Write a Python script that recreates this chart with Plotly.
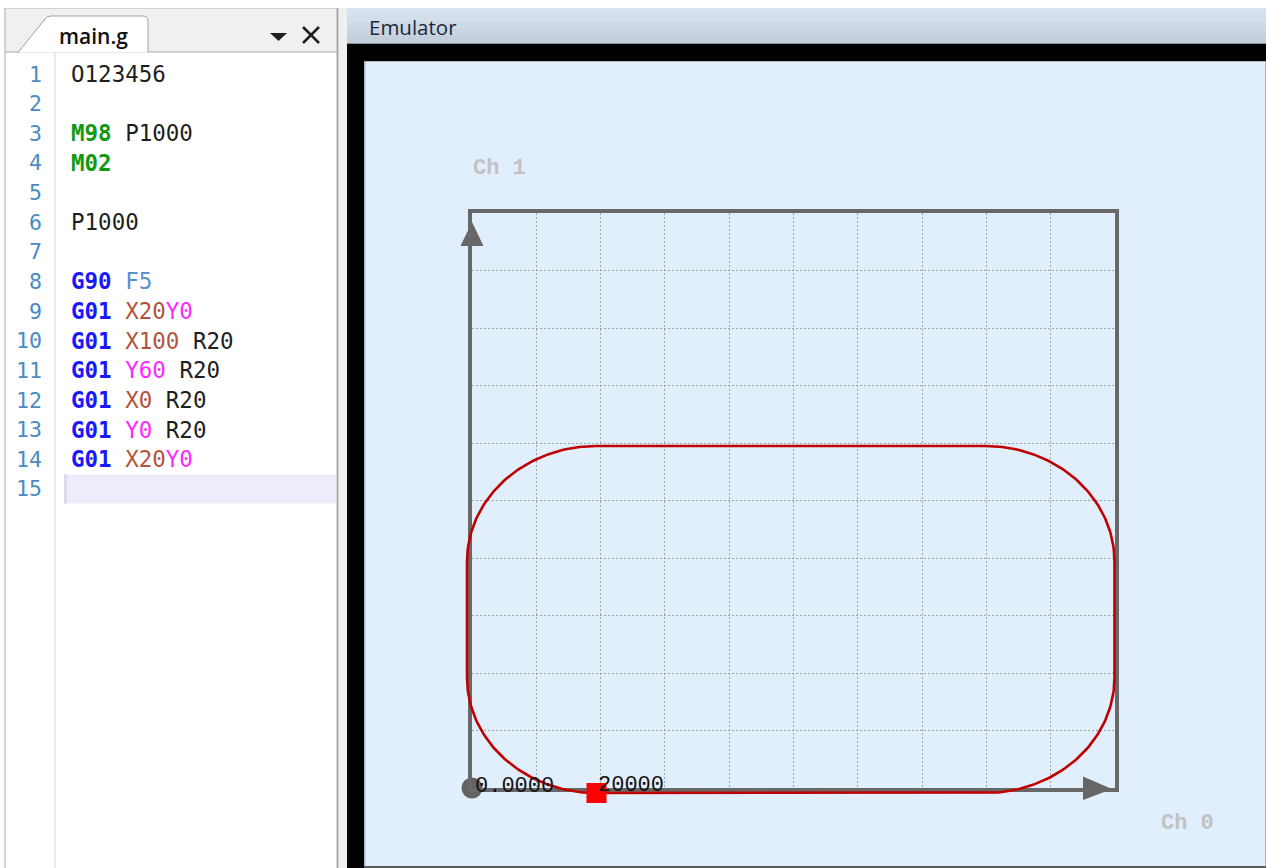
import re
import numpy as np
import plotly.graph_objects as go

W, H = 1266, 868

# ---------------- data ----------------
code_lines = [
    "O123456",
    "",
    "M98 P1000",
    "M02",
    "",
    "P1000",
    "",
    "G90 F5",
    "G01 X20Y0",
    "G01 X100 R20",
    "G01 Y60 R20",
    "G01 X0 R20",
    "G01 Y0 R20",
    "G01 X20Y0",
    "",
]
line_numbers = list(range(1, len(code_lines) + 1))
current_line = 15
tab_title = "main.g"
panel_title = "Emulator"

path_x = [0, 100]          # X0 .. X100
path_y = [0, 60]           # Y0 .. Y60
corner_radius = 20         # R20
start_point = [20, 0]      # X20Y0
tool_position = [20, 0]
axis_value_labels = ["0.0000", "20000"]
channel_labels = ["Ch 1", "Ch 0"]
grid_divisions = 10

# ---------------- helpers ----------------
def px(x):
    return x / W


def py(y):
    return 1 - y / H


def path_str(cmds):
    out = []
    for c in cmds:
        op, pts = c[0], c[1:]
        coords = " ".join(f"{px(a):.5f},{py(b):.5f}" for a, b in pts)
        out.append(f"{op} {coords}")
    return " ".join(out)


shapes = []


def rect(x0, y0, x1, y1, color, line=None):
    shapes.append(dict(type="rect", xref="paper", yref="paper",
                       x0=px(x0), x1=px(x1), y0=py(y1), y1=py(y0),
                       fillcolor=color, line=dict(width=0) if line is None else line,
                       layer="below"))


def hline(x0, x1, y, color, w=1):
    shapes.append(dict(type="line", xref="paper", yref="paper",
                       x0=px(x0), x1=px(x1), y0=py(y), y1=py(y),
                       line=dict(color=color, width=w), layer="below"))


def vline(x, y0, y1, color, w=1):
    shapes.append(dict(type="line", xref="paper", yref="paper",
                       x0=px(x), x1=px(x), y0=py(y0), y1=py(y1),
                       line=dict(color=color, width=w), layer="below"))


# ---------------- editor panel ----------------
rect(5, 8, 338, 52, "#f0f0f0")
hline(5, 338, 8.5, "#d0d0d0")
hline(5, 338, 52, "#a8a8a8")
vline(5, 8, 868, "#a8a8a8")
vline(55, 53, 868, "#d6d6d6")
shapes.append(dict(type="path", xref="paper", yref="paper",
                   path=path_str([("M", (18, 52.5)), ("L", (45, 19)),
                                  ("Q", (47, 16), (51, 16)), ("L", (143, 16)),
                                  ("Q", (148, 16), (148, 21)), ("L", (148, 52.5))]),
                   fillcolor="#ffffff", line=dict(color="#a0a0a0", width=1), layer="below"))
shapes.append(dict(type="path", xref="paper", yref="paper",
                   path=path_str([("M", (270, 33)), ("L", (287, 33)), ("L", (278.5, 41))]) + " Z",
                   fillcolor="#1e1e1e", line=dict(width=0), layer="below"))
for (a, b), (c, d) in [((303, 27), (319, 43)), ((319, 27), (303, 43))]:
    shapes.append(dict(type="line", xref="paper", yref="paper",
                       x0=px(a), y0=py(b), x1=px(c), y1=py(d),
                       line=dict(color="#1e1e1e", width=2.5), layer="below"))

line_y0, line_step = 74, 29.64
cy_cur = line_y0 + (current_line - 1) * line_step
rect(64, cy_cur - 14.5, 336, cy_cur + 14.5, "#ececfa")
rect(64, cy_cur - 14.5, 67, cy_cur + 14.5, "#d9d9f0")

vline(337.5, 8, 868, "#a8a8a8", 2)
rect(339, 8, 347, 868, "#f0f0f0")

# ---------------- emulator panel ----------------
grad = ["#d7e3f0", "#d2deea", "#cdd9e5", "#c8d4e0", "#c3cfdb"]
step = (43 - 8) / len(grad)
for i, c in enumerate(grad):
    rect(347, 8 + i * step, 1266, 8 + (i + 1) * step + 0.5, c)
hline(347, 1266, 43.5, "#7f8fa0")
rect(347, 44, 1266, 61.5, "#000000")
rect(347, 44, 364, 868, "#000000")
rect(364.5, 61.5, 1265, 866, "#e1eefc")
vline(364.8, 61.5, 866, "#8a98ab")
hline(364, 1266, 867, "#5a5a5a", 2)
vline(1265.5, 61.5, 866, "#b5b5b5")

# ---------------- curve from the G-code ----------------
R = corner_radius
corners = [
    ((path_x[1] - R, path_y[0] + R), -90, 0),
    ((path_x[1] - R, path_y[1] - R), 0, 90),
    ((path_x[0] + R, path_y[1] - R), 90, 180),
    ((path_x[0] + R, path_y[0] + R), 180, 270),
]
cx_list, cy_list = [start_point[0]], [start_point[1]]
for (ccx, ccy), a0, a1 in corners:
    t = np.radians(np.linspace(a0, a1, 60))
    cx_list += list(ccx + R * np.cos(t))
    cy_list += list(ccy + R * np.sin(t))
cx_list.append(start_point[0])
cy_list.append(start_point[1])

# pixel geometry of the emulator view
frame_px = (472, 1115, 213, 788)          # left, right, top, bottom
origin_px = (467, 793)
sx, sy = 6.475, 5.783
view_px = (365, 1264, 62, 865)

x2_range = [(view_px[0] - origin_px[0]) / sx, (view_px[1] - origin_px[0]) / sx]
y2_range = [(origin_px[1] - view_px[3]) / sy, (origin_px[1] - view_px[2]) / sy]

# axis arrowheads (decoration of the frame)
fl, fr, ft, fb = frame_px
shapes.append(dict(type="path", xref="paper", yref="paper",
                   path=path_str([("M", (fl - 11.5, ft + 33)), ("L", (fl, ft + 9)),
                                  ("L", (fl + 11.5, ft + 33))]) + " Z",
                   fillcolor="#666666", line=dict(width=0), layer="between"))
shapes.append(dict(type="path", xref="paper", yref="paper",
                   path=path_str([("M", (fr - 32, fb - 11.5)), ("L", (fr - 3, fb + 1)),
                                  ("L", (fr - 32, fb + 12))]) + " Z",
                   fillcolor="#666666", line=dict(width=0), layer="between"))

fig = go.Figure()

# origin dot on the grid subplot
fig.add_trace(go.Scatter(
    x=[0], y=[0], mode="markers", xaxis="x", yaxis="y", cliponaxis=False,
    marker=dict(symbol="circle", size=21, color="#636363", line=dict(width=0)),
    hoverinfo="skip", showlegend=False))

fig.add_trace(go.Scatter(
    x=cx_list, y=cy_list, mode="lines", xaxis="x2", yaxis="y2",
    line=dict(color="#c00000", width=2.6), hoverinfo="skip", showlegend=False))
fig.add_trace(go.Scatter(
    x=[tool_position[0]], y=[tool_position[1]], mode="markers", xaxis="x2", yaxis="y2",
    cliponaxis=False,
    marker=dict(symbol="square", size=20, color="#ff0000", line=dict(width=0)),
    hoverinfo="skip", showlegend=False))

ax_common = dict(showgrid=True, gridcolor="#a0a0a0", griddash="1.5px,2.5px", gridwidth=1.2,
                 showline=True, linecolor="#686868", linewidth=3.5, mirror=True,
                 zeroline=False, showticklabels=False, ticks="", dtick=1, tick0=0,
                 range=[0, grid_divisions], fixedrange=True)

# ---------------- annotations ----------------
ann = []
mono = "DejaVu Sans Mono"
styles = {
    "G": ("#1818ff", True),
    "M": ("#119a11", True),
    "X": ("#b4533d", False),
    "Y": ("#ff28ff", False),
    "F": ("#5a8fcf", False),
}
for i, (num, text) in enumerate(zip(line_numbers, code_lines)):
    yc = line_y0 + i * line_step
    ann.append(dict(x=px(44), y=py(yc), xref="paper", yref="paper", text=str(num),
                    showarrow=False, xanchor="right", yanchor="middle",
                    font=dict(family=mono, size=21.5, color="#4b8bc2")))
    if not text:
        continue
    parts = []
    for word in text.split(" "):
        toks = re.findall(r"[A-Z][0-9.]*", word)
        wparts = []
        for tk in toks:
            col, bold = styles.get(tk[0], ("#1e1e1e", False))
            s = f'<span style="color:{col}">{tk}</span>'
            if bold:
                s = f"<b>{s}</b>"
            wparts.append(s)
        parts.append("".join(wparts))
    ann.append(dict(x=px(69), y=py(yc), xref="paper", yref="paper", text=" ".join(parts),
                    showarrow=False, xanchor="left", yanchor="middle",
                    font=dict(family=mono, size=22.5, color="#1e1e1e")))

ann.append(dict(x=px(57), y=py(36), xref="paper", yref="paper", text=tab_title,
                showarrow=False, xanchor="left", yanchor="middle",
                font=dict(family="Open Sans", size=21, color="#111111", weight=600)))
ann.append(dict(x=px(367), y=py(27), xref="paper", yref="paper", text=panel_title,
                showarrow=False, xanchor="left", yanchor="middle",
                font=dict(family="Open Sans", size=20.5, color="#1c2838")))

ann.append(dict(x=px(471), y=py(168), xref="paper", yref="paper", text=f"<b>{channel_labels[0]}</b>",
                showarrow=False, xanchor="left", yanchor="middle",
                font=dict(family="Liberation Mono", size=22, color="#c2c2c2")))
ann.append(dict(x=px(1159), y=py(823), xref="paper", yref="paper", text=f"<b>{channel_labels[1]}</b>",
                showarrow=False, xanchor="left", yanchor="middle",
                font=dict(family="Liberation Mono", size=22, color="#c2c2c2")))
ann.append(dict(x=px(473), y=py(786), xref="paper", yref="paper", text=axis_value_labels[0],
                showarrow=False, xanchor="left", yanchor="middle",
                font=dict(family="Liberation Mono", size=22, color="#111111")))
ann.append(dict(x=px(596), y=py(785), xref="paper", yref="paper", text=axis_value_labels[1],
                showarrow=False, xanchor="left", yanchor="middle",
                font=dict(family="Liberation Mono", size=22, color="#111111")))

fig.update_layout(
    width=W, height=H, margin=dict(l=0, r=0, t=0, b=0, pad=0),
    paper_bgcolor="#ffffff", plot_bgcolor="rgba(0,0,0,0)",
    showlegend=False, shapes=shapes, annotations=ann,
    xaxis=dict(domain=[px(frame_px[0]), px(frame_px[1])], anchor="y", **ax_common),
    yaxis=dict(domain=[py(frame_px[3]), py(frame_px[2])], anchor="x", **ax_common),
    xaxis2=dict(domain=[px(view_px[0]), px(view_px[1])], range=x2_range, anchor="y2",
                visible=False, fixedrange=True),
    yaxis2=dict(domain=[py(view_px[3]), py(view_px[2])], range=y2_range, anchor="x2",
                visible=False, fixedrange=True),
)

fig.write_html("out.html", config={"displayModeBar": False},
               post_script="document.body.style.margin='0';document.body.style.overflow='hidden';")
